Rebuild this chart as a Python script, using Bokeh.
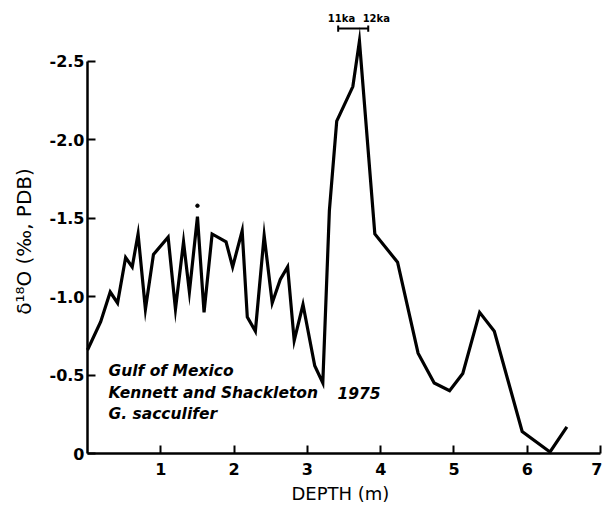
import math
from bokeh.plotting import figure
from bokeh.models import Range1d, FixedTicker, ColumnDataSource, CustomJSTickFormatter
from bokeh.core.properties import value
from bokeh.embed import file_html
from bokeh.resources import INLINE

# Depth (m) and delta-18O (per mil, PDB)
depth = [0.00, 0.18, 0.31, 0.41, 0.52, 0.61, 0.69, 0.79, 0.90, 1.10,
         1.20, 1.31, 1.39, 1.50, 1.59, 1.70, 1.89, 1.98, 2.11, 2.18,
         2.29, 2.41, 2.52, 2.63, 2.73, 2.82, 2.94, 3.10, 3.21, 3.30,
         3.40, 3.62, 3.71, 3.92, 4.23, 4.51, 4.73, 4.94, 5.12, 5.35,
         5.55, 5.93, 6.31, 6.54]
d18o = [-0.66, -0.84, -1.03, -0.96, -1.25, -1.19, -1.40, -0.92, -1.27, -1.38,
        -0.92, -1.35, -1.03, -1.51, -0.90, -1.40, -1.35, -1.19, -1.42, -0.87,
        -0.78, -1.39, -0.96, -1.11, -1.19, -0.72, -0.95, -0.56, -0.45, -1.55,
        -2.12, -2.34, -2.63, -1.40, -1.22, -0.64, -0.45, -0.40, -0.51, -0.90,
        -0.78, -0.14, -0.01, -0.17]

# isolated dot above the 1.5 m peak
dot_depth = [1.50]
dot_d18o = [-1.58]

x_ticks = [1, 2, 3, 4, 5, 6, 7]
y_ticks = [0, -0.5, -1.0, -1.5, -2.0, -2.5]

# age bar (11 ka - 12 ka)
age_bar_depth = [3.42, 3.83]
age_bar_d18o = -2.71
age_labels = ["11ka", "12ka"]
age_label_depth = [3.465, 3.94]
age_label_d18o = [-2.774, -2.774]

note_lines = ["Gulf of Mexico", "Kennett and Shackleton", "G. sacculifer"]
note_depth = [0.286, 0.286, 0.286]
note_d18o = [-0.529, -0.383, -0.249]
note_year = ["1975"]
note_year_depth = [3.41]
note_year_d18o = [-0.383]

x_title = ["DEPTH (m)"]
x_title_pos = [3.45]
x_title_d18o = [0.255]
y_title = ["δ¹⁸O (‰, PDB)"]
y_title_pos = [-0.86]
y_title_d18o = [-1.352]

FONT = "DejaVu Sans"

p = figure(width=602, height=505, output_backend="svg", toolbar_location=None,
           x_range=Range1d(-1.187, 7.026), y_range=Range1d(0.3316, -2.889),
           min_border=0, min_border_left=0, min_border_right=0,
           min_border_top=0, min_border_bottom=0)
p.outline_line_color = None
p.xgrid.visible = False
p.ygrid.visible = False
p.background_fill_color = "white"
p.border_fill_color = "white"

src = ColumnDataSource(dict(x=depth, y=d18o))
p.line("x", "y", source=src, line_color="black", line_width=3.2, line_join="miter")
p.scatter(dot_depth, dot_d18o, size=3.5, color="black")

# age bar
p.segment(x0=[age_bar_depth[0]], y0=[age_bar_d18o], x1=[age_bar_depth[1]], y1=[age_bar_d18o],
          line_color="black", line_width=2)
p.segment(x0=age_bar_depth, y0=[age_bar_d18o - 0.02] * 2, x1=age_bar_depth,
          y1=[age_bar_d18o + 0.02] * 2, line_color="black", line_width=2)
p.text(x=age_label_depth, y=age_label_d18o, text=age_labels,
       text_font=value(FONT), text_font_size="10px", text_font_style="bold",
       text_align="center", text_baseline="middle", text_color="black")

# annotation text
p.text(x=note_depth, y=note_d18o, text=note_lines,
       text_font=value(FONT), text_font_size="15.5px", text_font_style="bold italic",
       text_align="left", text_baseline="middle", text_color="black")
p.text(x=note_year_depth, y=note_year_d18o, text=note_year,
       text_font=value(FONT), text_font_size="15.5px", text_font_style="bold italic",
       text_align="left", text_baseline="middle", text_color="black")

# axis titles
p.text(x=x_title_pos, y=x_title_d18o, text=x_title,
       text_font=value(FONT), text_font_size="18px",
       text_align="center", text_baseline="middle", text_color="black")
p.text(x=y_title_pos, y=y_title_d18o, text=y_title, angle=math.pi / 2,
       text_font=value(FONT), text_font_size="20px",
       text_align="center", text_baseline="middle", text_color="black")

# axes
xa = p.xaxis[0]
xa.ticker = FixedTicker(ticks=x_ticks)
xa.bounds = (0, 7)
xa.fixed_location = 0
ya = p.yaxis[0]
ya.ticker = FixedTicker(ticks=y_ticks)
ya.bounds = (-2.5, 0)
ya.fixed_location = 0
ya.formatter = CustomJSTickFormatter(code="return tick == 0 ? '0' : tick.toFixed(1);")

for ax in (xa, ya):
    ax.axis_line_width = 2.5
    ax.axis_line_color = "black"
    ax.major_tick_in = 8
    ax.major_tick_out = 0
    ax.major_tick_line_width = 2
    ax.major_tick_line_color = "black"
    ax.minor_tick_line_color = None
    ax.major_label_text_font = FONT
    ax.major_label_text_font_size = "16px"
    ax.major_label_text_font_style = "bold"
    ax.major_label_text_color = "black"

xa.major_label_standoff = 9
ya.major_label_standoff = 3

open("out.html", "w").write(file_html(p, INLINE))
